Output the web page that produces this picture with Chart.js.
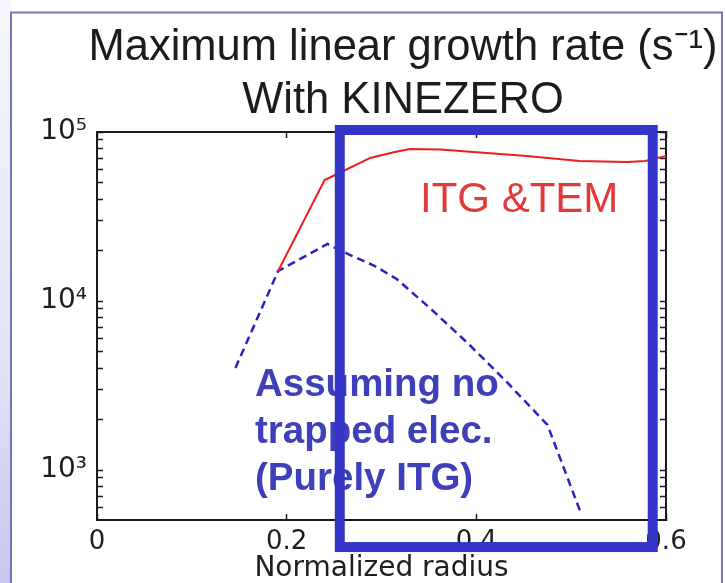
<!DOCTYPE html>
<html>
<head>
<meta charset="utf-8">
<script src="https://cdn.jsdelivr.net/npm/chart.js@4.4.1/dist/chart.umd.min.js"></script>
<style>
  html, body { margin: 0; padding: 0; background: #ffffff; }
  #wrap { width: 726px; height: 583px; }
</style>
</head>
<body>
<div id="wrap"><canvas id="growth" width="726" height="583"></canvas></div>
<script>
// ITG + TEM growth rate (solid red) and pure ITG growth rate (dashed blue), s^-1
const radiusTEM = [0.191, 0.240, 0.262, 0.288, 0.314, 0.330, 0.362, 0.397, 0.453, 0.509, 0.559, 0.578, 0.600];
const rateTEM   = [15050, 52000, 59600, 70200, 76150, 79300, 78750, 76150, 72100, 67300, 66450, 67300, 72100];
const radiusITG = [0.146, 0.191, 0.243, 0.267, 0.293, 0.316, 0.351, 0.393, 0.432, 0.475, 0.511];
const rateITG   = [4020, 15050, 21740, 18710, 16110, 13490, 9090, 5490, 3320, 1850, 542];

// Axis ticks and labels
const xTickValues = [0, 0.2, 0.4, 0.6];
const xTickLabels = ['0', '0.2', '0.4', '0.6'];
const yDecades = [1e3, 1e4, 1e5];
const yDecadeLabels = ['10³', '10⁴', '10⁵'];
const yRange = [506, 1e5];

// Text
const titleLines = ['Maximum linear growth rate (s⁻¹)', 'With KINEZERO'];
const xAxisTitle = 'Normalized radius';
const labelTEM = ['ITG &TEM'];
const labelITG = ['Assuming no', 'trapped elec.', '(Purely ITG)'];

// Highlighted radial region (radius, growth rate corners)
const highlightRadius = [0.256, 0.586];
const highlightRate = [350, 102800];

// Minor log ticks: 1..9 x each decade inside the range
const yTickValues = [];
for (const d of [100, 1000, 10000]) {
  for (let m = 1; m <= 9; m++) {
    const v = m * d;
    if (v >= yRange[0] && v <= yRange[1]) yTickValues.push(v);
  }
}
yTickValues.push(1e5);

const AXIS = '#1a1a1a';
const gridInward = { drawOnChartArea: false, drawTicks: true, tickLength: -6, tickColor: AXIS, tickWidth: 1.5 };
const borderBox = { display: true, color: AXIS, width: 2 };
const tickFont = { family: '"DejaVu Sans", sans-serif', size: 26, lineHeight: 1 };
const axisTitleFont = { family: '"DejaVu Sans", sans-serif', size: 28, lineHeight: 1 };

const setXTicks = s => { s.ticks = xTickValues.map(v => ({ value: v })); };
const setYTicks = s => { s.ticks = yTickValues.map(v => ({ value: v, major: yDecades.includes(v) })); };

const slideBackground = {
  id: 'slideBackground',
  beforeDraw(chart) {
    const { ctx, width, height } = chart;
    ctx.save();
    ctx.fillStyle = '#ffffff';
    ctx.fillRect(0, 0, width, height);
    const g = ctx.createLinearGradient(0, 0, 0, height);
    g.addColorStop(0, '#f6f6fc');
    g.addColorStop(0.6, '#e4e4f6');
    g.addColorStop(1, '#c6c7ee');
    ctx.fillStyle = g;
    ctx.fillRect(0, 0, 11, height);
    ctx.strokeStyle = '#7474b8';
    ctx.lineWidth = 2;
    ctx.strokeRect(11, 12.5, 711, height + 10);
    ctx.restore();
  }
};

const annotations = {
  id: 'annotations',
  afterDatasetsDraw(chart) {
    const { ctx, scales: { x, y } } = chart;
    const put = (lines, rx, ry, step, font, color) => {
      ctx.save();
      ctx.font = font;
      ctx.fillStyle = color;
      ctx.textAlign = 'left';
      ctx.textBaseline = 'alphabetic';
      const px = x.getPixelForValue(rx);
      const py = y.getPixelForValue(ry);
      lines.forEach((t, i) => ctx.fillText(t, px, py + i * step));
      ctx.restore();
    };
    put(labelTEM, 0.3406, 33600, 0, 'normal 42px "Liberation Sans", Arial, sans-serif', '#e03a3a');
    put(labelITG, 0.1666, 2740, 47, 'bold 38.5px "Liberation Sans", Arial, sans-serif', '#3f3fb9');
  }
};

const highlightBox = {
  id: 'highlightBox',
  afterDraw(chart) {
    const { ctx, scales: { x, y } } = chart;
    const x0 = x.getPixelForValue(highlightRadius[0]);
    const x1 = x.getPixelForValue(highlightRadius[1]);
    const y0 = y.getPixelForValue(highlightRate[1]);
    const y1 = y.getPixelForValue(highlightRate[0]);
    ctx.save();
    ctx.strokeStyle = '#3434c6';
    ctx.lineWidth = 10;
    ctx.lineJoin = 'miter';
    ctx.strokeRect(x0, y0, x1 - x0, y1 - y0);
    ctx.restore();
  }
};

new Chart(document.getElementById('growth'), {
  type: 'line',
  data: {
    datasets: [
      {
        label: 'ITG & TEM',
        data: radiusTEM.map((r, i) => ({ x: r, y: rateTEM[i] })),
        borderColor: '#ee1e1e',
        borderWidth: 2,
        pointRadius: 0,
        tension: 0,
        fill: false
      },
      {
        label: 'Purely ITG',
        data: radiusITG.map((r, i) => ({ x: r, y: rateITG[i] })),
        borderColor: '#2424c4',
        borderWidth: 2.5,
        borderDash: [8, 5],
        pointRadius: 0,
        tension: 0,
        fill: false
      }
    ]
  },
  options: {
    responsive: false,
    animation: false,
    layout: { padding: { left: 28, right: -52, top: 21, bottom: 0 } },
    plugins: {
      legend: { display: false },
      tooltip: { enabled: false },
      title: {
        display: true,
        text: titleLines,
        color: '#1c1c1c',
        font: { family: '"Liberation Sans", Arial, sans-serif', size: 43.5, weight: 'normal', lineHeight: 53 / 43.5 },
        padding: { top: 0, bottom: 5 }
      }
    },
    scales: {
      x: {
        type: 'linear', position: 'bottom', min: 0, max: 0.6,
        afterBuildTicks: setXTicks,
        afterFit: s => { s.height = 63; },
        grid: gridInward,
        border: borderBox,
        ticks: { autoSkip: false, maxRotation: 0, padding: 15, color: '#1e1e1e', font: tickFont,
                 callback: (v, i) => xTickLabels[i] },
        title: { display: true, text: xAxisTitle, color: '#1e1e1e', font: axisTitleFont, padding: 0 }
      },
      xTop: {
        type: 'linear', position: 'top', min: 0, max: 0.6,
        afterBuildTicks: setXTicks,
        afterFit: s => { s.height = 0; },
        grid: gridInward,
        border: borderBox,
        ticks: { display: false }
      },
      y: {
        type: 'logarithmic', position: 'left', min: yRange[0], max: yRange[1],
        afterBuildTicks: setYTicks,
        afterFit: s => { s.width = 69; },
        grid: gridInward,
        border: borderBox,
        ticks: { autoSkip: false, padding: 16, color: '#1e1e1e',
                 font: { family: '"DejaVu Sans", sans-serif', size: 28 },
                 callback: v => { const i = yDecades.indexOf(v); return i >= 0 ? yDecadeLabels[i] : ''; } }
      },
      yRight: {
        type: 'logarithmic', position: 'right', min: yRange[0], max: yRange[1],
        afterBuildTicks: setYTicks,
        afterFit: s => { s.width = 112; },
        grid: gridInward,
        border: borderBox,
        ticks: { display: false }
      }
    }
  },
  plugins: [slideBackground, annotations, highlightBox]
});
</script>
</body>
</html>
